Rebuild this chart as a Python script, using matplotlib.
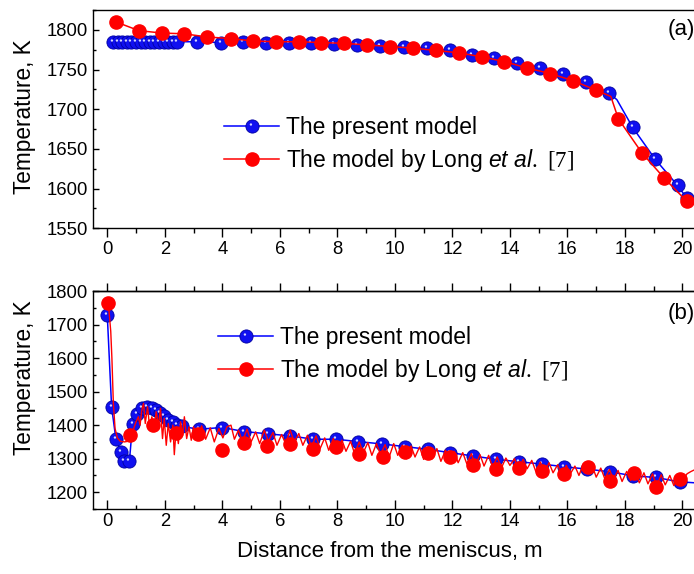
import numpy as np
import matplotlib
matplotlib.use("Agg")
import matplotlib.pyplot as plt
from matplotlib.ticker import MultipleLocator
from matplotlib.legend_handler import HandlerTuple
from matplotlib.lines import Line2D
from matplotlib.path import Path

plt.rcParams['font.family'] = ['Liberation Sans', 'DejaVu Sans']
plt.rcParams['mathtext.fontset'] = 'custom'
plt.rcParams['mathtext.it'] = 'Liberation Sans:italic'
plt.rcParams['mathtext.rm'] = 'Liberation Serif'

# ---- panel (a) data ----
blue_a_x = [0.20, 0.36, 0.52, 0.68, 0.84, 1.00, 1.16, 1.32, 1.48, 1.64, 1.80, 1.96, 2.12, 2.28, 2.44,
            3.13, 3.94, 4.73, 5.52, 6.32, 7.09, 7.90, 8.67, 9.48, 10.30, 11.11, 11.90, 12.67,
            13.46, 14.24, 15.05, 15.84, 16.65, 17.43, 18.27, 19.05, 19.83, 20.15]
blue_a_t = [1785, 1785, 1785, 1785, 1785, 1785, 1785, 1785, 1785, 1785, 1785, 1785, 1785, 1785, 1785,
            1785, 1784, 1785, 1784, 1784, 1783, 1782, 1781, 1780, 1779, 1777, 1774, 1768,
            1764, 1758, 1752, 1744, 1734, 1721, 1677, 1637, 1604, 1588]
blue_a_kink = (17.72, 1712)

red_a_x = [0.30, 1.10, 1.89, 2.68, 3.48, 4.29, 5.06, 5.87, 6.65, 7.43, 8.24, 9.04, 9.83,
           10.62, 11.43, 12.23, 13.02, 13.81, 14.59, 15.40, 16.19, 17.00, 17.77, 18.59, 19.37, 20.15]
red_a_t = [1810, 1799, 1796, 1795, 1791, 1789, 1786, 1785, 1785, 1784, 1783, 1781, 1779,
           1777, 1774, 1771, 1766, 1760, 1752, 1745, 1736, 1724, 1688, 1645, 1613, 1584]
red_a_kink = (17.51, 1716)

# ---- panel (b) data ----
blue_b_x = [0.00, 0.15, 0.30, 0.47, 0.58, 0.77, 0.88, 1.02, 1.20, 1.39, 1.54, 1.68, 1.83, 1.97,
            2.12, 2.27, 2.44, 2.59, 3.19, 4.00, 4.75, 5.60, 6.36, 7.17, 7.95, 8.73, 9.54,
            10.35, 11.14, 11.92, 12.73, 13.52, 14.30, 15.11, 15.89, 16.67, 17.48, 18.27, 19.08, 19.90]
blue_b_t = [1727, 1454, 1358, 1321, 1294, 1294, 1404, 1434, 1451, 1454, 1451, 1446, 1436, 1426,
            1416, 1408, 1401, 1396, 1388, 1393, 1381, 1374, 1368, 1358, 1358, 1351, 1344,
            1336, 1328, 1318, 1308, 1298, 1291, 1284, 1276, 1269, 1261, 1249, 1244, 1231]
blue_b_end = (20.45, 1228)

red_b_x = [0.03, 0.79, 1.58, 2.39, 3.17, 4.00, 4.75, 5.57, 6.36, 7.17, 7.94, 8.74, 9.57,
           10.35, 11.14, 11.92, 12.73, 13.52, 14.30, 15.11, 15.89, 16.70, 17.48, 18.30, 19.08, 19.90]
red_b_t = [1765, 1371, 1401, 1376, 1373, 1326, 1348, 1339, 1344, 1329, 1336, 1314, 1306,
           1321, 1316, 1306, 1281, 1268, 1271, 1264, 1254, 1276, 1234, 1256, 1216, 1238]

red_line_x = [0.00, 0.06, 0.12, 0.16, 0.21, 0.27, 0.35, 0.45, 0.60, 0.72, 0.80, 0.90, 1.00, 1.08,
              1.14, 1.20, 1.26, 1.32, 1.40, 1.47, 1.55, 1.62, 1.70, 1.78, 1.85, 1.92, 1.98, 2.05,
              2.12, 2.20, 2.28, 2.33, 2.40, 2.47, 2.55, 2.62, 2.68, 2.76, 2.84, 2.92,
              3.00, 3.14, 3.28, 3.42, 3.58, 3.72, 3.88, 4.02, 4.16, 4.30, 4.42, 4.56, 4.70, 4.86,
              5.00, 5.16, 5.30, 5.46, 5.60, 5.76, 5.90, 6.06, 6.20, 6.36, 6.50, 6.66, 6.80, 6.96,
              7.10, 7.26, 7.40, 7.56, 7.70, 7.86, 8.00, 8.16, 8.30, 8.46, 8.60, 8.76, 8.90, 9.06,
              9.20, 9.36, 9.50, 9.66, 9.80, 9.96, 10.10, 10.26, 10.40, 10.56, 10.70, 10.86, 11.00,
              11.16, 11.30, 11.46, 11.60, 11.76, 11.90, 12.06, 12.20, 12.36, 12.50, 12.66, 12.80,
              12.96, 13.10, 13.26, 13.40, 13.56, 13.70, 13.86, 14.00, 14.16, 14.30, 14.46, 14.60,
              14.76, 14.90, 15.06, 15.20, 15.36, 15.50, 15.66, 15.80, 15.96, 16.10, 16.26, 16.40,
              16.56, 16.70, 16.86, 17.00, 17.16, 17.30, 17.46, 17.60, 17.76, 17.90, 18.06, 18.20,
              18.36, 18.50, 18.66, 18.80, 18.96, 19.10, 19.26, 19.40, 19.56, 19.70, 19.86, 20.00,
              20.16, 20.30, 20.45]
red_line_t = [1765, 1740, 1680, 1600, 1467, 1390, 1362, 1352, 1350, 1352, 1365, 1385, 1410, 1425,
              1400, 1445, 1465, 1405, 1455, 1395, 1425, 1385, 1440, 1400, 1450, 1360, 1420, 1340,
              1405, 1350, 1400, 1312, 1395, 1345, 1410, 1370, 1425, 1360, 1395, 1355,
              1395, 1360, 1398, 1358, 1392, 1350, 1390, 1362, 1395, 1400, 1358, 1385, 1352, 1388,
              1350, 1380, 1345, 1385, 1352, 1378, 1340, 1372, 1345, 1385, 1350, 1375, 1340, 1370,
              1335, 1368, 1330, 1362, 1325, 1360, 1320, 1355, 1322, 1352, 1315, 1350, 1318, 1348,
              1310, 1345, 1312, 1342, 1305, 1345, 1310, 1340, 1300, 1338, 1305, 1335, 1298,
              1332, 1300, 1330, 1292, 1325, 1295, 1322, 1288, 1318, 1285, 1315, 1280,
              1312, 1278, 1310, 1275, 1305, 1272, 1302, 1280, 1300, 1268, 1298, 1270,
              1295, 1262, 1290, 1260, 1288, 1258, 1282, 1250, 1280, 1255, 1278, 1250,
              1285, 1262, 1280, 1245, 1272, 1240, 1268, 1238, 1265, 1232, 1262, 1235,
              1260, 1228, 1258, 1225, 1255, 1218, 1252, 1222, 1250, 1220, 1252, 1235,
              1255, 1262, 1268]

BLUE = '#0000ff'
RED = '#ff0000'
MS = 9.5

# off-centre highlight dot that gives the blue balls their shine
HL_PATH = Path.circle(center=(-0.12, 0.15), radius=0.09)
HL_MS = MS * 2 * (0.15 + 0.09)

fig = plt.figure(figsize=(6.94, 5.74), dpi=100)
W, H = 694.0, 574.0


def px_axes(left, top, right, bottom):
    return fig.add_axes([left / W, 1 - bottom / H, (right - left) / W, (bottom - top) / H])


def spheres(ax, x, y, z=3):
    ax.plot(x, y, 'o', ls='none', ms=MS, mfc='#1010f0', mec='#0000a0', mew=0.6, zorder=z)
    ax.plot(x, y, marker=HL_PATH, ls='none', ms=HL_MS, mfc='#d4d4ff', mec='none', zorder=z + 0.1)


ax1 = px_axes(93, 10, 698, 228.3)
ax2 = px_axes(93, 291, 698, 509)

# panel (a)
bl_x = sorted(blue_a_x + [blue_a_kink[0]])
bl_t = [t for _, t in sorted(zip(blue_a_x + [blue_a_kink[0]], blue_a_t + [blue_a_kink[1]]))]
rl_x = sorted(red_a_x + [red_a_kink[0]])
rl_t = [t for _, t in sorted(zip(red_a_x + [red_a_kink[0]], red_a_t + [red_a_kink[1]]))]
ax1.plot(bl_x, bl_t, color=BLUE, lw=1.1, zorder=2)
spheres(ax1, blue_a_x, blue_a_t)
ax1.plot(rl_x, rl_t, color=RED, lw=1.1, zorder=4)
ax1.plot(red_a_x, red_a_t, 'o', ls='none', ms=MS, color=RED, zorder=5)

# panel (b)
ax2.plot(blue_b_x + [blue_b_end[0]], blue_b_t + [blue_b_end[1]], color=BLUE, lw=1.1, zorder=2)
spheres(ax2, blue_b_x, blue_b_t)
ax2.plot(red_line_x, red_line_t, color=RED, lw=1.0, zorder=4)
ax2.plot(red_b_x, red_b_t, 'o', ls='none', ms=MS, color=RED, zorder=5)

for ax in (ax1, ax2):
    ax.set_xlim(-0.497, 20.54)
    ax.xaxis.set_major_locator(MultipleLocator(2))
    ax.xaxis.set_minor_locator(MultipleLocator(1))
    for s in ax.spines.values():
        s.set_linewidth(1.0)
    ax.tick_params(axis='y', which='both', direction='in', right=False, labelsize=13.3, pad=3.6, width=1.0)
    ax.tick_params(axis='y', which='major', length=4.5)
    ax.tick_params(axis='y', which='minor', length=2.5)

ax1.set_ylim(1550, 1825)
ax1.yaxis.set_major_locator(MultipleLocator(50))
ax1.yaxis.set_minor_locator(MultipleLocator(25))
ax1.tick_params(axis='x', which='both', direction='out', top=False, labelsize=13.3, pad=3.0, width=1.0)
ax1.tick_params(axis='x', which='major', length=6.5)
ax1.tick_params(axis='x', which='minor', length=3.5)

ax2.set_ylim(1150, 1800)
ax2.yaxis.set_major_locator(MultipleLocator(100))
ax2.yaxis.set_minor_locator(MultipleLocator(50))
ax2.tick_params(axis='x', which='both', direction='in', top=False, labelsize=13.3, pad=3.0, width=1.0)
ax2.tick_params(axis='x', which='major', length=6.3)
ax2.tick_params(axis='x', which='minor', length=3.2)
sec = ax2.secondary_xaxis('top')
sec.xaxis.set_major_locator(MultipleLocator(2))
sec.xaxis.set_minor_locator(MultipleLocator(1))
sec.tick_params(axis='x', which='both', direction='out', labeltop=False, width=1.0)
sec.tick_params(axis='x', which='major', length=6.0)
sec.tick_params(axis='x', which='minor', length=3.6)
sec.spines['top'].set_linewidth(1.0)

# legends
blue_h = (Line2D([], [], color=BLUE, lw=1.1, marker='o', ms=MS, mfc='#1010f0', mec='#0000a0', mew=0.6),
          Line2D([], [], ls='none', marker=HL_PATH, ms=HL_MS, mfc='#d4d4ff', mec='none'))
red_h = Line2D([], [], color=RED, lw=1.1, marker='o', ms=MS, mfc=RED, mec=RED)
labels = ['The present model', 'The model by Long $\\mathit{et\\ al.}\\ \\mathrm{[7]}$']

for ax, (lx, ly) in ((ax1, (224, 116)), (ax2, (218, 326))):
    ax.legend([blue_h, red_h], labels, handler_map={tuple: HandlerTuple(ndivide=1, pad=0)},
              loc='upper left', bbox_to_anchor=(lx / W, 1 - ly / H), bbox_transform=fig.transFigure,
              frameon=False, fontsize=16.5, handlelength=2.4, handletextpad=0.3,
              labelspacing=0.33, borderpad=0, borderaxespad=0, numpoints=1)

fig.text(668 / W, 1 - 30 / H, '(a)', fontsize=16, va='center', ha='left')
fig.text(668 / W, 1 - 313 / H, '(b)', fontsize=16, va='center', ha='left')

fig.text(25 / W, 1 - 117 / H, 'Temperature, K', fontsize=16.3, rotation=90, va='center', ha='center')
fig.text(25 / W, 1 - 378 / H, 'Temperature, K', fontsize=16.3, rotation=90, va='center', ha='center')
fig.text(390 / W, 1 - 551 / H, 'Distance from the meniscus, m', fontsize=16, va='center', ha='center')

fig.savefig('out.png', dpi=100)
